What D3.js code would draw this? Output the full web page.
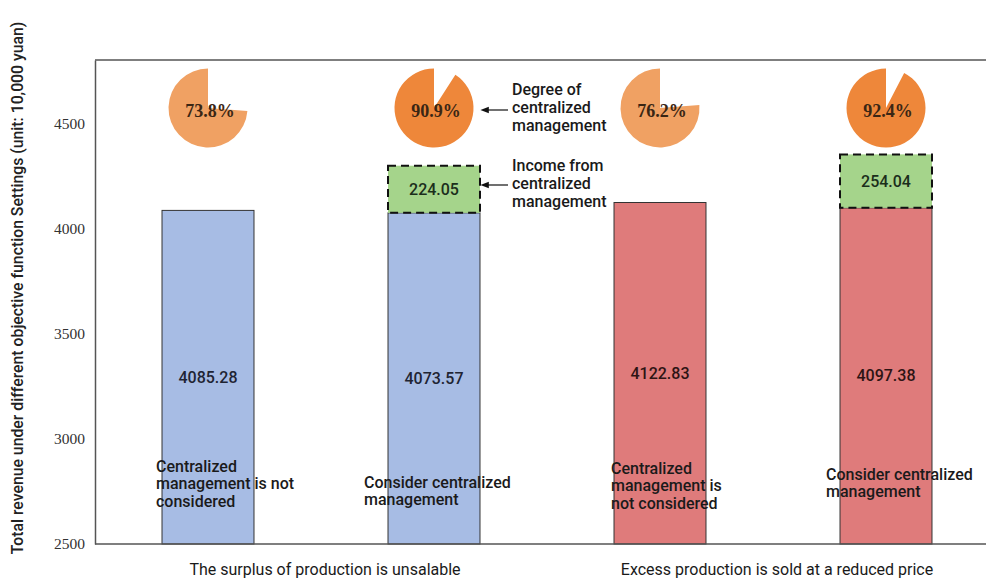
<!DOCTYPE html>
<html>
<head>
<meta charset="utf-8">
<script src="https://cdn.jsdelivr.net/npm/d3@7"></script>
<style>
  html, body { margin: 0; padding: 0; background: #fff; }
  svg { display: block; }
</style>
</head>
<body>
<svg id="chart" width="986" height="579"></svg>
<script>
// ---- data ----
const categories = ["notConsidered_unsalable", "consider_unsalable", "notConsidered_reduced", "consider_reduced"];
const categoryLabels = [
  ["Centralized", "management is not", "considered"],
  ["Consider centralized", "management"],
  ["Centralized", "management is", "not considered"],
  ["Consider centralized", "management"]
];
const baseRevenue = [4085.28, 4073.57, 4122.83, 4097.38];
const centralizedIncome = [0, 224.05, 0, 254.04];
const centralizationDegree = [73.8, 90.9, 76.2, 92.4];
const scenarioType = ["unsalable", "unsalable", "reduced", "reduced"];
const groupLabels = ["The surplus of production is unsalable", "Excess production is sold at a reduced price"];
const yTicks = [2500, 3000, 3500, 4000, 4500];
const yDomain = [2500, 4800];
const yTitle = "Total revenue under different objective function Settings (unit: 10,000 yuan)";

// ---- layout ----
const W = 986, H = 579;
const plot = { left: 95, top: 60, right: 999, bottom: 544 };
const barColor = { unsalable: "#a7bce4", reduced: "#df7b7b" };
const pieColor = (p) => p > 85 ? "#ee873a" : "#f0a163";
const labelOffsets = [[-6, 466], [-24, 482], [-3, 468], [-14, 474]];
const SANS = "Roboto, Arial, 'Liberation Sans', sans-serif";
const SERIF = "'Liberation Serif', 'Times New Roman', serif";
const FS = 16;

const svg = d3.select("#chart");

const x = d3.scaleBand().domain(categories).range([plot.left, plot.right])
  .paddingInner(0.593).paddingOuter(0.2965);
const y = d3.scaleLinear().domain(yDomain).range([plot.bottom, plot.top]);

// frame top line
svg.append("line").attr("x1", plot.left).attr("x2", W).attr("y1", plot.top).attr("y2", plot.top)
  .attr("stroke", "#555").attr("stroke-width", 1.5);

// y axis
const yAxis = d3.axisLeft(y).tickValues(yTicks).tickSize(0).tickPadding(10).tickFormat(d3.format("d"));
const gy = svg.append("g").attr("transform", `translate(${plot.left},0)`).call(yAxis);
gy.select(".domain").attr("stroke", "#555").attr("stroke-width", 1.5);
gy.selectAll("text").attr("font-family", SERIF)
  .attr("font-size", 15.5).attr("fill", "#333");

// y title
svg.append("text")
  .attr("transform", `translate(17, 288) rotate(-90)`)
  .attr("text-anchor", "middle").attr("dominant-baseline", "central")
  .attr("font-family", SANS)
  .attr("font-size", 15.8).attr("font-weight", 500).attr("fill", "#222")
  .text(yTitle);

// bars
const bars = svg.append("g");
categories.forEach((c, i) => {
  const bx = x(c), bw = x.bandwidth();
  bars.append("rect")
    .attr("x", bx).attr("y", y(baseRevenue[i]))
    .attr("width", bw).attr("height", y(yDomain[0]) - y(baseRevenue[i]))
    .attr("fill", barColor[scenarioType[i]]).attr("stroke", "#333").attr("stroke-width", 1);
  bars.append("text")
    .attr("x", bx + bw / 2).attr("y", (y(baseRevenue[i]) + y(yDomain[0])) / 2)
    .attr("text-anchor", "middle").attr("dominant-baseline", "central")
    .attr("font-family", SANS).attr("font-size", FS).attr("font-weight", 500)
    .attr("fill", scenarioType[i] === "unsalable" ? "#1f2433" : "#2e1414")
    .text(baseRevenue[i].toFixed(2));
  if (centralizedIncome[i] > 0) {
    const top = baseRevenue[i] + centralizedIncome[i];
    bars.append("rect")
      .attr("x", bx).attr("y", y(top))
      .attr("width", bw).attr("height", y(baseRevenue[i]) - y(top))
      .attr("fill", "#a5d48b").attr("stroke", "#111").attr("stroke-width", 2)
      .attr("stroke-dasharray", "8,5");
    bars.append("text")
      .attr("x", bx + bw / 2).attr("y", (y(top) + y(baseRevenue[i])) / 2)
      .attr("text-anchor", "middle").attr("dominant-baseline", "central")
      .attr("font-family", SANS).attr("font-size", FS).attr("font-weight", 500)
      .attr("fill", "#1b2e1b")
      .text(centralizedIncome[i].toFixed(2));
  }
  // pie
  const cx = bx + bw / 2, cy = 108, r = 39.5;
  const arc = d3.arc().innerRadius(0).outerRadius(r)
    .startAngle((1 - centralizationDegree[i] / 100) * 2 * Math.PI).endAngle(2 * Math.PI);
  svg.append("path").attr("transform", `translate(${cx},${cy})`).attr("d", arc())
    .attr("fill", pieColor(centralizationDegree[i]));
  svg.append("text").attr("x", cx + 2).attr("y", cy + 3)
    .attr("text-anchor", "middle").attr("dominant-baseline", "central")
    .attr("font-family", SERIF)
    .attr("font-size", 18).attr("font-weight", "bold").attr("fill", "#3a2614")
    .text(centralizationDegree[i].toFixed(1) + "%");
  // category label
  const t = svg.append("text")
    .attr("font-family", SANS).attr("font-size", FS).attr("font-weight", 500)
    .attr("fill", "#1a1a1a");
  categoryLabels[i].forEach((line, k) => {
    t.append("tspan").attr("x", bx + labelOffsets[i][0])
      .attr("y", labelOffsets[i][1] + k * 17.5).attr("dominant-baseline", "central").text(line);
  });
});

// x axis bottom line
svg.append("line").attr("x1", plot.left).attr("x2", W).attr("y1", plot.bottom).attr("y2", plot.bottom)
  .attr("stroke", "#555").attr("stroke-width", 1.5);

// group labels
[[0, 1], [2, 3]].forEach((pair, g) => {
  const c0 = x(categories[pair[0]]) + x.bandwidth() / 2;
  const c1 = x(categories[pair[1]]) + x.bandwidth() / 2;
  svg.append("text").attr("x", (c0 + c1) / 2 + 4).attr("y", 569)
    .attr("text-anchor", "middle").attr("dominant-baseline", "central")
    .attr("font-family", SANS).attr("font-size", FS)
    .attr("fill", "#1a1a1a").text(groupLabels[g]);
});

// annotations
const annX = 512;
const ann = [
  { lines: ["Degree of", "centralized", "management"], y0: 89, arrowY: 110 },
  { lines: ["Income from", "centralized", "management"], y0: 165, arrowY: 185 }
];
svg.append("defs").append("marker").attr("id", "arr").attr("viewBox", "0 0 10 10")
  .attr("refX", 1).attr("refY", 5).attr("markerWidth", 7).attr("markerHeight", 7)
  .attr("orient", "auto-start-reverse")
  .append("path").attr("d", "M0,1 L10,5 L0,9 Z").attr("fill", "#111");
ann.forEach(a => {
  const t = svg.append("text").attr("font-family", SANS)
    .attr("font-size", FS).attr("font-weight", 500).attr("fill", "#1a1a1a");
  a.lines.forEach((l, k) => t.append("tspan").attr("x", annX).attr("y", a.y0 + k * 18)
    .attr("dominant-baseline", "central").text(l));
  svg.append("line").attr("x1", annX - 4).attr("x2", 488).attr("y1", a.arrowY).attr("y2", a.arrowY)
    .attr("stroke", "#111").attr("stroke-width", 1.2).attr("marker-end", "url(#arr)");
});
</script>
</body>
</html>
